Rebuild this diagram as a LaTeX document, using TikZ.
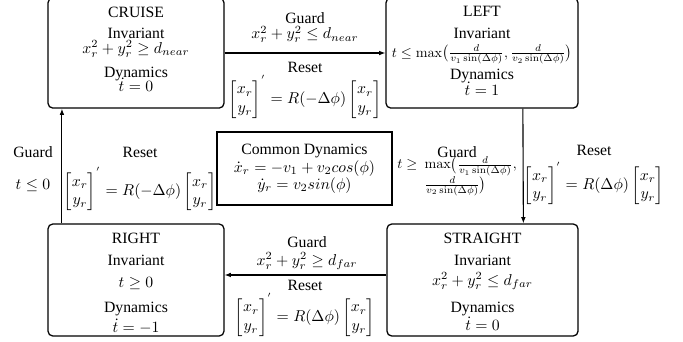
\documentclass[tikz,border=0pt]{standalone}
\usepackage{amsmath, amssymb}
\usepackage[no-math]{fontspec}
\setmainfont{Liberation Serif}
\usepackage{tikz}
\usetikzlibrary{arrows.meta, positioning}

\newcommand{\relvec}{\begin{bmatrix} x_r \\ y_r \end{bmatrix}}

\begin{document}
\begin{tikzpicture}[x=0.636pt, y=-0.636pt, every node/.style={font=\normalsize}]
  \tikzset{mode/.style={draw, rounded corners=3pt, line width=0.8pt, inner sep=0pt},
    lbl/.style={align=center, inner sep=0pt},
    trans/.style={line width=0.7pt, -{Latex[length=4pt, width=3pt]}}}
  \useasboundingbox (0,0) rectangle (683,341);
  % modes
  \node[mode, minimum width=111.9pt, minimum height=70pt] (cruise) at (136,53) {};
  \node[mode, minimum width=122.1pt, minimum height=70pt] (left) at (482,53) {};
  \node[mode, minimum width=111.9pt, minimum height=71.2pt] (right) at (136,280) {};
  \node[mode, minimum width=121.5pt, minimum height=71.2pt] (straight) at (482.5,280) {};
  \node[lbl, anchor=north] (cruise-txt) at (136,6.6) {CRUISE\\[1.4pt] Invariant\\[-2.5pt]
    $x_r^2+y_r^2\geq d_{near}$\\[3.3pt] Dynamics\\[-3pt] $\dot{t}=0$};
  \node[lbl, anchor=north] (left-txt) at (482,5.6) {LEFT\\[2pt] Invariant\\
    \scalebox{0.9}{$t\leq\max\bigl(\frac{d}{v_1\sin(\Delta\phi)},\frac{d}{v_2\sin(\Delta\phi)}\bigr)$}\\[2pt]
    Dynamics\\[-1.5pt] $\dot{t}=1$};
  \node[lbl, anchor=north] (right-txt) at (136,232.6) {RIGHT\\[2pt] Invariant\\[2pt]
    $t\geq 0$\\[3.9pt] Dynamics\\[0.7pt] $\dot{t}=-1$};
  \node[lbl, anchor=north] (straight-txt) at (482.5,232.6) {STRAIGHT\\[2pt] Invariant\\[0.7pt]
    $x_r^2+y_r^2\leq d_{far}$\\[5.2pt] Dynamics\\[-0.5pt] $\dot{t}=0$};
  % common dynamics
  \node[draw, line width=0.8pt, align=center, minimum width=111.3pt, minimum height=46.4pt,
    inner sep=0pt] (common) at (304.5,168.5) {Common Dynamics\\[-0.5pt]
    $\dot{x}_r=-v_1+v_2cos(\phi)$\\[-1pt] $\dot{y}_r=v_2sin(\phi)$};
  % transitions
  \draw[trans] (cruise) -- (left);
  \draw[trans] ([xshift=26pt]left.south) -- ([xshift=26pt]straight.north);
  \draw[trans] ([yshift=3.2pt]straight.west) -- ([yshift=3.2pt]right.east);
  \draw[trans] ([xshift=-47.1pt]right.north) -- ([xshift=-47.1pt]cruise.south);
  % guards and resets
  \node[lbl, anchor=north] (g1) at (305,12.6) {Guard\\[-2.5pt] $x_r^2+y_r^2\leq d_{near}$};
  \node[lbl, anchor=north] (r1) at (305,61.6) {Reset\\[1pt] $\relvec^{'}=R(-\Delta\phi)\relvec$};
  \node[lbl, anchor=north east] (g2) at (517,146.6) {Guard\\[-5pt]
    \scalebox{0.9}{$t\geq$\enspace\begin{tabular}[t]{@{}l@{}}$\max\bigl(\frac{d}{v_1\sin(\Delta\phi)},$\\
    $\frac{d}{v_2\sin(\Delta\phi)}\bigr)$\end{tabular}}};
  \node[lbl, anchor=north] (r2) at (594,144.6) {Reset\\[3pt] $\relvec^{'}=R(\Delta\phi)\relvec$};
  \node[lbl, anchor=north] (g3) at (307,236.6) {Guard\\[-1pt] $x_r^2+y_r^2\geq d_{far}$};
  \node[lbl, anchor=north] (r3) at (305,279.6) {Reset\\[1pt] $\relvec^{'}=R(\Delta\phi)\relvec$};
  \node[lbl, anchor=north] (g4) at (33,146.6) {Guard\\[8pt] $t\leq 0$};
  \node[lbl, anchor=north] (r4) at (140,146.6) {Reset\\[5.5pt] $\relvec^{'}=R(-\Delta\phi)\relvec$};
\end{tikzpicture}
\end{document}
